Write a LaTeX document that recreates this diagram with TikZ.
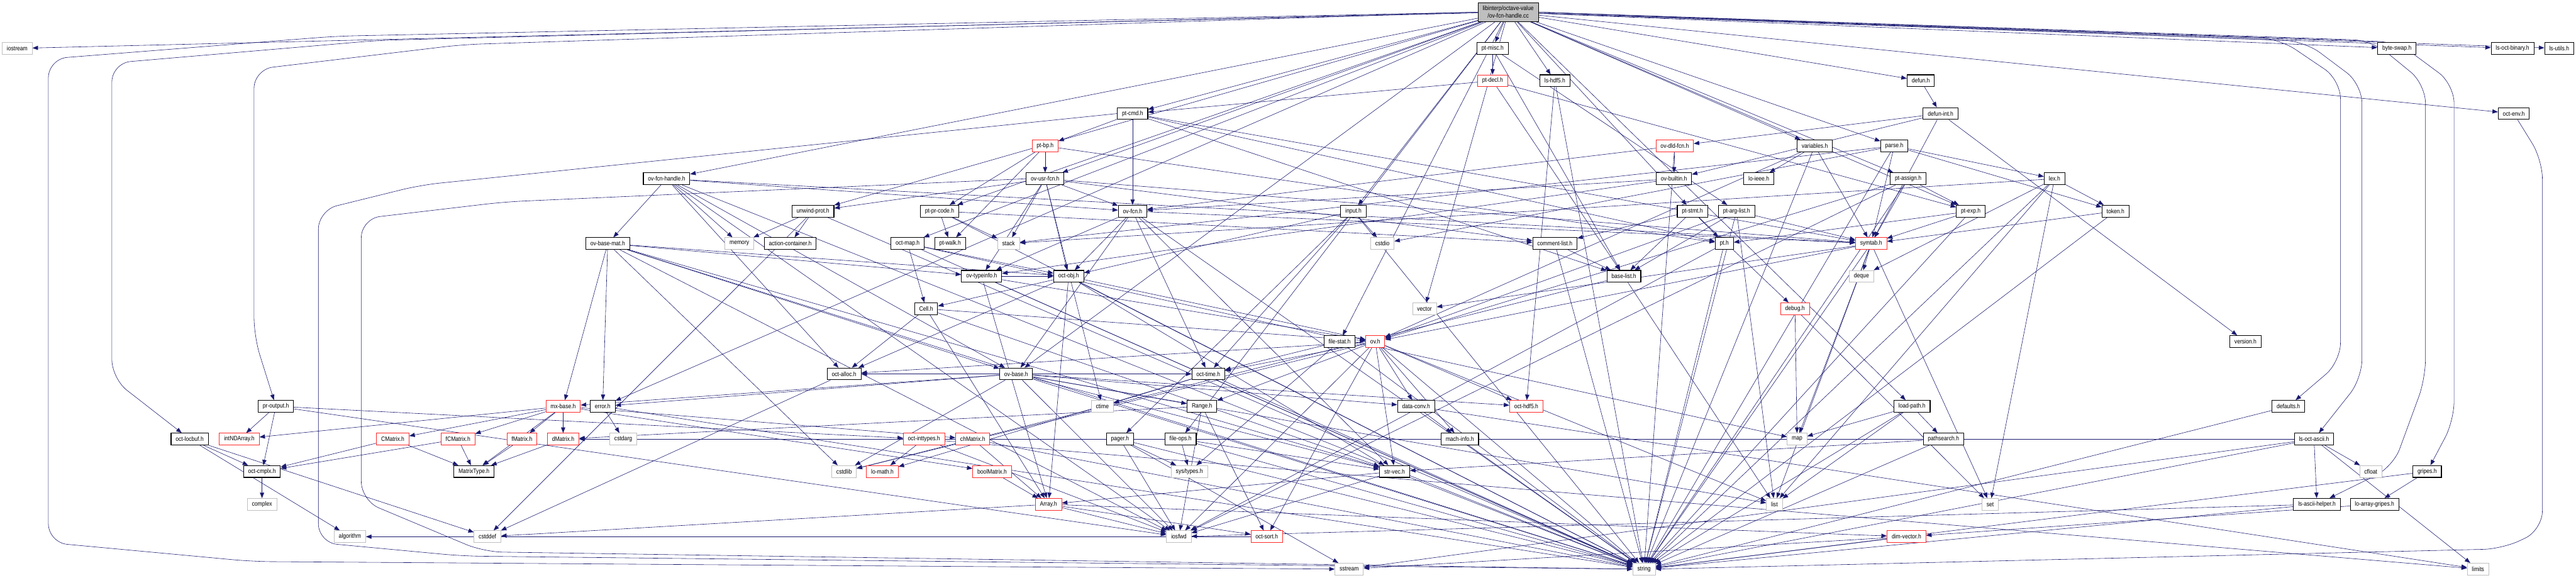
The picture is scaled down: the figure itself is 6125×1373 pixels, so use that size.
\documentclass[tikz,border=0pt]{standalone}
\usepackage{fontspec}
\setmainfont{Liberation Sans}[FakeStretch=0.86]
\usepackage{tikz}
\usetikzlibrary{arrows.meta,positioning,backgrounds}
\definecolor{incblue}{HTML}{191970}
\definecolor{incred}{HTML}{FF2A2A}
\definecolor{incgray}{HTML}{BFBFBF}

\begin{document}
\begin{tikzpicture}[
    x=0.02cm, y=-0.02cm,
    % Estilos
    box/.style={draw, line width=0.8pt, fill=white, inner xsep=0.22cm, inner ysep=0pt,
                minimum height=0.56cm, font=\fontsize{8.5}{10.2}\selectfont},
    hdr/.style={box, draw=black, line width=0.95pt},
    trunc/.style={box, draw=incred},
    sys/.style={box, draw=incgray},
    root/.style={box, draw=black, fill=incgray, align=center, minimum height=0.9cm},
    arr/.style={-{Triangle[length=0.26cm, width=0.2cm]}, color=incblue, line width=0.5pt},
    wrap/.style={arr, rounded corners=0.9cm}
]
\useasboundingbox (0,0) rectangle (6125,1373);

% --- NODOS (por filas) ---
\node[root] (src) at (3586,29) {libinterp/octave-value\\/ov-fcn-handle.cc};

\node[sys]   (iostream) at (41,115)   {iostream};
\node[hdr]   (ptmisc)   at (3549,115) {pt-misc.h};
\node[hdr]   (byteswap) at (5699,115) {byte-swap.h};
\node[hdr]   (lsoctbin) at (5974,115) {ls-oct-binary.h};
\node[hdr]   (lsutils)  at (6085,115) {ls-utils.h};

\node[trunc] (ptdecl)   at (3549,192) {pt-decl.h};
\node[hdr]   (lshdf)    at (3697,192) {ls-hdf5.h};
\node[hdr]   (defun)    at (4567,192) {defun.h};

\node[hdr]   (ptcmd)    at (2693,270) {pt-cmd.h};
\node[hdr]   (defunint) at (4614,270) {defun-int.h};
\node[hdr]   (octenv)   at (5977,270) {oct-env.h};

\node[trunc] (ptbp)      at (2485,347) {pt-bp.h};
\node[trunc] (ovdld)     at (3982,347) {ov-dld-fcn.h};
\node[hdr]   (variables) at (4315,347) {variables.h};
\node[hdr]   (parse)     at (4504,347) {parse.h};

\node[hdr]   (ovfh)      at (1585,425) {ov-fcn-handle.h};
\node[hdr]   (ovusr)     at (2485,425) {ov-usr-fcn.h};
\node[hdr]   (ovbuiltin) at (3980,425) {ov-builtin.h};
\node[hdr]   (loieee)    at (4182,425) {lo-ieee.h};
\node[hdr]   (ptassign)  at (4537,425) {pt-assign.h};
\node[hdr]   (lex)       at (4885,425) {lex.h};

\node[hdr]   (unwind)   at (1933,502) {unwind-prot.h};
\node[hdr]   (ptprcode) at (2234,502) {pt-pr-code.h};
\node[hdr]   (ovfcn)    at (2693,502) {ov-fcn.h};
\node[hdr]   (input)    at (3218,502) {input.h};
\node[hdr]   (ptstmt)   at (4024,502) {pt-stmt.h};
\node[hdr]   (ptarg)    at (4129,502) {pt-arg-list.h};
\node[hdr]   (ptexp)    at (4686,502) {pt-exp.h};
\node[hdr]   (token)    at (5030,502) {token.h};

\node[hdr]   (ovbasemat) at (1445,579) {ov-base-mat.h};
\node[sys]   (memory)    at (1758,579) {memory};
\node[hdr]   (actcont)   at (1879,579) {action-container.h};
\node[hdr]   (octmap)    at (2158,579) {oct-map.h};
\node[hdr]   (ptwalk)    at (2259,579) {pt-walk.h};
\node[sys]   (stack)     at (2398,579) {stack};
\node[sys]   (cstdio)    at (3287,579) {cstdio};
\node[hdr]   (cmtlist)   at (3697,579) {comment-list.h};
\node[hdr]   (pth)       at (4100,579) {pt.h};
\node[trunc] (symtab)    at (4449,579) {symtab.h};

\node[hdr]   (ovtype)   at (2334,657) {ov-typeinfo.h};
\node[hdr]   (octobj)   at (2541,657) {oct-obj.h};
\node[hdr]   (baselist) at (3861,657) {base-list.h};
\node[sys]   (deque)    at (4426,657) {deque};

\node[hdr]   (cell)   at (2202,734) {Cell.h};
\node[sys]   (vector) at (3387,734) {vector};
\node[trunc] (debug)  at (4268,734) {debug.h};

\node[hdr]   (filestat) at (3185,812) {file-stat.h};
\node[trunc] (ovh)      at (3270,812) {ov.h};
\node[hdr]   (version)  at (5339,812) {version.h};

\node[hdr]   (octalloc) at (2007,889) {oct-alloc.h};
\node[hdr]   (ovbase)   at (2416,889) {ov-base.h};
\node[hdr]   (octtime)  at (2873,889) {oct-time.h};

\node[hdr]   (proutput) at (656,966)  {pr-output.h};
\node[trunc] (mxbase)   at (1339,966) {mx-base.h};
\node[hdr]   (error)    at (1433,966) {error.h};
\node[sys]   (ctime)    at (2621,966) {ctime};
\node[hdr]   (range)    at (2858,966) {Range.h};
\node[hdr]   (dataconv) at (3367,966) {data-conv.h};
\node[trunc] (hdf)      at (3629,966) {oct-hdf5.h};
\node[hdr]   (loadpath) at (4546,966) {load-path.h};
\node[hdr]   (defaults) at (5441,966) {defaults.h};

\node[hdr]   (locbuf)     at (451,1044)  {oct-locbuf.h};
\node[trunc] (intnd)      at (569,1044)  {intNDArray.h};
\node[trunc] (cmatrix)    at (934,1044)  {CMatrix.h};
\node[trunc] (fcmatrix)   at (1089,1044) {fCMatrix.h};
\node[trunc] (fmatrix)    at (1241,1044) {fMatrix.h};
\node[trunc] (dmatrix)    at (1339,1044) {dMatrix.h};
\node[sys]   (cstdarg)    at (1482,1044) {cstdarg};
\node[trunc] (inttypes)   at (2197,1044) {oct-inttypes.h};
\node[trunc] (chmatrix)   at (2313,1044) {chMatrix.h};
\node[hdr]   (pager)      at (2663,1044) {pager.h};
\node[hdr]   (fileops)    at (2807,1044) {file-ops.h};
\node[hdr]   (machinfo)   at (3471,1044) {mach-info.h};
\node[sys]   (map)        at (4273,1044) {map};
\node[hdr]   (pathsearch) at (4621,1044) {pathsearch.h};
\node[hdr]   (lsascii)    at (5502,1044) {ls-oct-ascii.h};

\node[hdr]   (cmplx)    at (623,1121)  {oct-cmplx.h};
\node[hdr]   (mtype)    at (1127,1121) {MatrixType.h};
\node[sys]   (cstdlib)  at (2007,1121) {cstdlib};
\node[trunc] (lomath)   at (2098,1121) {lo-math.h};
\node[trunc] (boolmat)  at (2359,1121) {boolMatrix.h};
\node[sys]   (systypes) at (2828,1121) {sys/types.h};
\node[hdr]   (strvec)   at (3316,1121) {str-vec.h};
\node[sys]   (cfloat)   at (5637,1121) {cfloat};
\node[hdr]   (gripes)   at (5771,1121) {gripes.h};

\node[sys]   (complex)     at (623,1199)  {complex};
\node[trunc] (array)       at (2493,1199) {Array.h};
\node[sys]   (list)        at (4219,1199) {list};
\node[sys]   (set)         at (4732,1199) {set};
\node[hdr]   (asciihelper) at (5509,1199) {ls-ascii-helper.h};
\node[hdr]   (arrgripes)   at (5646,1199) {lo-array-gripes.h};

\node[sys]   (algorithm) at (832,1276)  {algorithm};
\node[sys]   (cstddef)   at (1159,1276) {cstddef};
\node[sys]   (iosfwd)    at (2803,1276) {iosfwd};
\node[trunc] (octsort)   at (3012,1276) {oct-sort.h};
\node[trunc] (dimvec)    at (4533,1276) {dim-vector.h};

\node[sys]   (sstream) at (3208,1353) {sstream};
\node[sys]   (string)  at (3909,1353) {string};
\node[sys]   (limits)  at (5892,1353) {limits};

% puntos de paso para los enlaces largos (izquierda)
\coordinate (wa1) at (800,86);   \coordinate (wa2) at (115,140);
\coordinate (wa3) at (115,1290); \coordinate (wa4) at (600,1335);
\coordinate (wb1) at (900,96);   \coordinate (wb2) at (266,150);
\coordinate (wb3) at (266,900);
\coordinate (wc1) at (1100,106); \coordinate (wc2) at (604,165);
\coordinate (wc3) at (604,800);
\coordinate (wd1) at (1000,440); \coordinate (wd2) at (757,500);
\coordinate (wd3) at (757,1290); \coordinate (wd4) at (1100,1322);
\coordinate (we1) at (1200,480); \coordinate (we2) at (859,520);
\coordinate (we3) at (859,1190); \coordinate (we4) at (1150,1312);
% puntos de paso (derecha)
\coordinate (wf1) at (5420,92);  \coordinate (wf2) at (5565,190);
\coordinate (wf3) at (5565,860);
\coordinate (wg1) at (5480,98);  \coordinate (wg2) at (5616,200);
\coordinate (wg3) at (5616,900);
\coordinate (wh1) at (5640,96);  \coordinate (wh2) at (5767,200);
\coordinate (wh3) at (5767,900); \coordinate (wh4) at (5690,1110);
\coordinate (wi1) at (5700,100); \coordinate (wi2) at (5835,200);
\coordinate (wi3) at (5835,1000);
\coordinate (wj1) at (6045,380); \coordinate (wj2) at (6045,1260);
\coordinate (wj3) at (5950,1305);

% --- ENLACES ---
\begin{scope}[on background layer]
\path[arr] (src) edge (iostream) edge (ptmisc) edge (lshdf) edge (defun) edge (ptcmd)
    edge (ovfh) edge (ovusr) edge (ptprcode) edge (octmap) edge (input) edge (unwind)
    edge (ptstmt) edge (ptexp) edge (ptassign) edge (variables) edge (parse)
    edge (byteswap) edge (lsoctbin) edge (lsutils) edge (octenv) edge (filestat)
    edge (fileops) edge (ovbase) edge (error) edge (loadpath) edge (vector);
\draw[wrap] (src.west) -- (wa1) -- (wa2) -- (wa3) -- (wa4) -- (sstream.west);
\draw[wrap] (src.west) -- (wb1) -- (wb2) -- (wb3) -- (locbuf);
\draw[wrap] (src.west) -- (wc1) -- (wc2) -- (wc3) -- (proutput);
\draw[wrap] (src.east) -- (wf1) -- (wf2) -- (wf3) -- (defaults);
\draw[wrap] (src.east) -- (wg1) -- (wg2) -- (wg3) -- (lsascii);
\draw[wrap] (src.east) -- (wh1) -- (wh2) -- (wh3) -- (wh4) -- (asciihelper);
\draw[wrap] (src.east) -- (wi1) -- (wi2) -- (wi3) -- (gripes);
\draw[wrap] (ptcmd.west) -- (wd1) -- (wd2) -- (wd3) -- (wd4) -- (string.west);
\draw[wrap] (ovusr.west) -- (we1) -- (we2) -- (we3) -- (we4) -- (string.west);
\draw[wrap] (octenv) -- (wj1) -- (wj2) -- (wj3) -- (string.east);

\path[arr] (ptmisc) edge (ptdecl) edge (ptarg) edge (baselist);
\path[arr] (ptdecl) edge (ptcmd) edge (baselist) edge (ptexp);
\path[arr] (ptcmd) edge (ptbp) edge (ovfcn) edge (pth) edge (symtab) edge (baselist);
\path[arr] (ptbp) edge (ovusr) edge (ptprcode) edge (ptwalk) edge (pth);
\path[arr] (ovusr) edge (ovfcn) edge (stack) edge (ovtype) edge (octobj) edge (ctime)
    edge (cmtlist) edge (symtab) edge (unwind);
\path[arr] (defun) edge (defunint);
\path[arr] (defunint) edge (ovdld) edge (ovbuiltin) edge (symtab) edge (version);
\path[arr] (ovdld) edge (ovbuiltin) edge (ovfcn) edge (string);
\path[arr] (ovbuiltin) edge (ovfcn) edge (ovtype);
\path[arr] (variables) edge (loieee) edge (symtab) edge (ovh) edge (string);
\path[arr] (parse) edge (lex) edge (token) edge (symtab) edge (stack) edge (cstdio) edge (string);
\path[arr] (ovfh) edge (ovbasemat) edge (memory) edge (ovbase) edge (ovfcn) edge (octalloc)
    edge (symtab) edge (iosfwd) edge (string);
\path[arr] (ptassign) edge (ptexp) edge (symtab) edge (ovh) edge (iosfwd) edge (string);
\path[arr] (lex) edge (token) edge (deque) edge (list) edge (set) edge (stack) edge (string);
\path[arr] (unwind) edge (memory) edge (actcont) edge (cstddef) edge (string);
\path[arr] (ptprcode) edge (ptwalk) edge (stack) edge (cmtlist) edge (string);
\path[arr] (ovfcn) edge (ovtype) edge (octobj) edge (ovbase) edge (octtime) edge (strvec)
    edge (symtab) edge (string);
\path[arr] (input) edge (cstdio) edge (octtime) edge (octobj) edge (pager) edge (string);
\path[arr] (ptstmt) edge (baselist) edge (cmtlist) edge (pth) edge (debug);
\path[arr] (ptarg) edge (list) edge (baselist) edge (symtab) edge (ovh) edge (string);
\path[arr] (ptexp) edge (pth) edge (symtab) edge (string);
\path[arr] (token) edge (symtab) edge (string);
\path[arr] (ovbasemat) edge (mxbase) edge (error) edge (octobj) edge (ovbase) edge (ovtype)
    edge (strvec) edge (cstdlib) edge (iosfwd) edge (string);
\path[arr] (octmap) edge (cell) edge (octobj) edge (map) edge (string);
\path[arr] (cmtlist) edge (baselist) edge (string);
\path[arr] (pth) edge (string) edge (iosfwd);
\path[arr] (symtab) edge (deque) edge (list) edge (map) edge (set) edge (string) edge (ovh)
    edge (vector);
\path[arr] (ovtype) edge (octobj) edge (ovh) edge (array) edge (string);
\path[arr] (octobj) edge (cell) edge (array) edge (octalloc) edge (strvec) edge (ovh) edge (string);
\path[arr] (baselist) edge (list) edge (cstdlib);
\path[arr] (cell) edge (array) edge (octalloc) edge (strvec) edge (ovh);
\path[arr] (debug) edge (map) edge (set);
\path[arr] (filestat) edge (octtime) edge (systypes) edge (string);
\path[arr] (ovh) edge (range) edge (dataconv) edge (machinfo) edge (strvec) edge (hdf)
    edge (octalloc) edge (octtime) edge (octsort) edge (cstdlib) edge (iosfwd) edge (list)
    edge (string);
\path[arr] (octalloc) edge (cstddef);
\path[arr] (ovbase) edge (range) edge (dataconv) edge (mxbase) edge (octalloc) edge (hdf)
    edge (octtime) edge (strvec) edge (error) edge (cstdlib) edge (iosfwd) edge (list)
    edge (string);
\path[arr] (octtime) edge (ctime) edge (lomath) edge (string);
\path[arr] (proutput) edge (intnd) edge (cmplx) edge (inttypes) edge (iosfwd);
\path[arr] (mxbase) edge (fcmatrix) edge (fmatrix) edge (dmatrix) edge (mtype) edge (cmatrix)
    edge (chmatrix) edge (boolmat) edge (intnd);
\path[arr] (error) edge (cstdarg) edge (string);
\path[arr] (range) edge (dmatrix) edge (iosfwd) edge (octsort);
\path[arr] (dataconv) edge (machinfo) edge (limits);
\path[arr] (lshdf) edge (hdf) edge (string);
\path[arr] (loadpath) edge (map) edge (list) edge (pathsearch) edge (string);
\path[arr] (defaults) edge (string);
\path[arr] (locbuf) edge (cmplx) edge (cstddef) edge (algorithm);
\path[arr] (cmatrix) edge (cmplx) edge (mtype);
\path[arr] (fcmatrix) edge (mtype) edge (cmplx);
\path[arr] (fmatrix) edge (mtype);
\path[arr] (dmatrix) edge (mtype);
\path[arr] (inttypes) edge (lomath) edge (limits) edge (iosfwd);
\path[arr] (chmatrix) edge (array) edge (string);
\path[arr] (boolmat) edge (array);
\path[arr] (pager) edge (iosfwd) edge (sstream) edge (string) edge (systypes);
\path[arr] (fileops) edge (systypes) edge (strvec) edge (string);
\path[arr] (machinfo) edge (string);
\path[arr] (pathsearch) edge (strvec) edge (string);
\path[arr] (lsascii) edge (cfloat) edge (asciihelper) edge (dmatrix) edge (sstream)
    edge (string) edge (limits);
\path[arr] (cmplx) edge (complex);
\path[arr] (strvec) edge (array) edge (iosfwd) edge (string);
\path[arr] (gripes) edge (arrgripes) edge (string);
\path[arr] (array) edge (cstddef) edge (iosfwd) edge (dimvec) edge (octsort);
\path[arr] (asciihelper) edge (iosfwd) edge (string);
\path[arr] (arrgripes) edge (dimvec);
\path[arr] (octsort) edge (algorithm);
\path[arr] (dimvec) edge (sstream) edge (string);
\end{scope}

\end{tikzpicture}
\end{document}
